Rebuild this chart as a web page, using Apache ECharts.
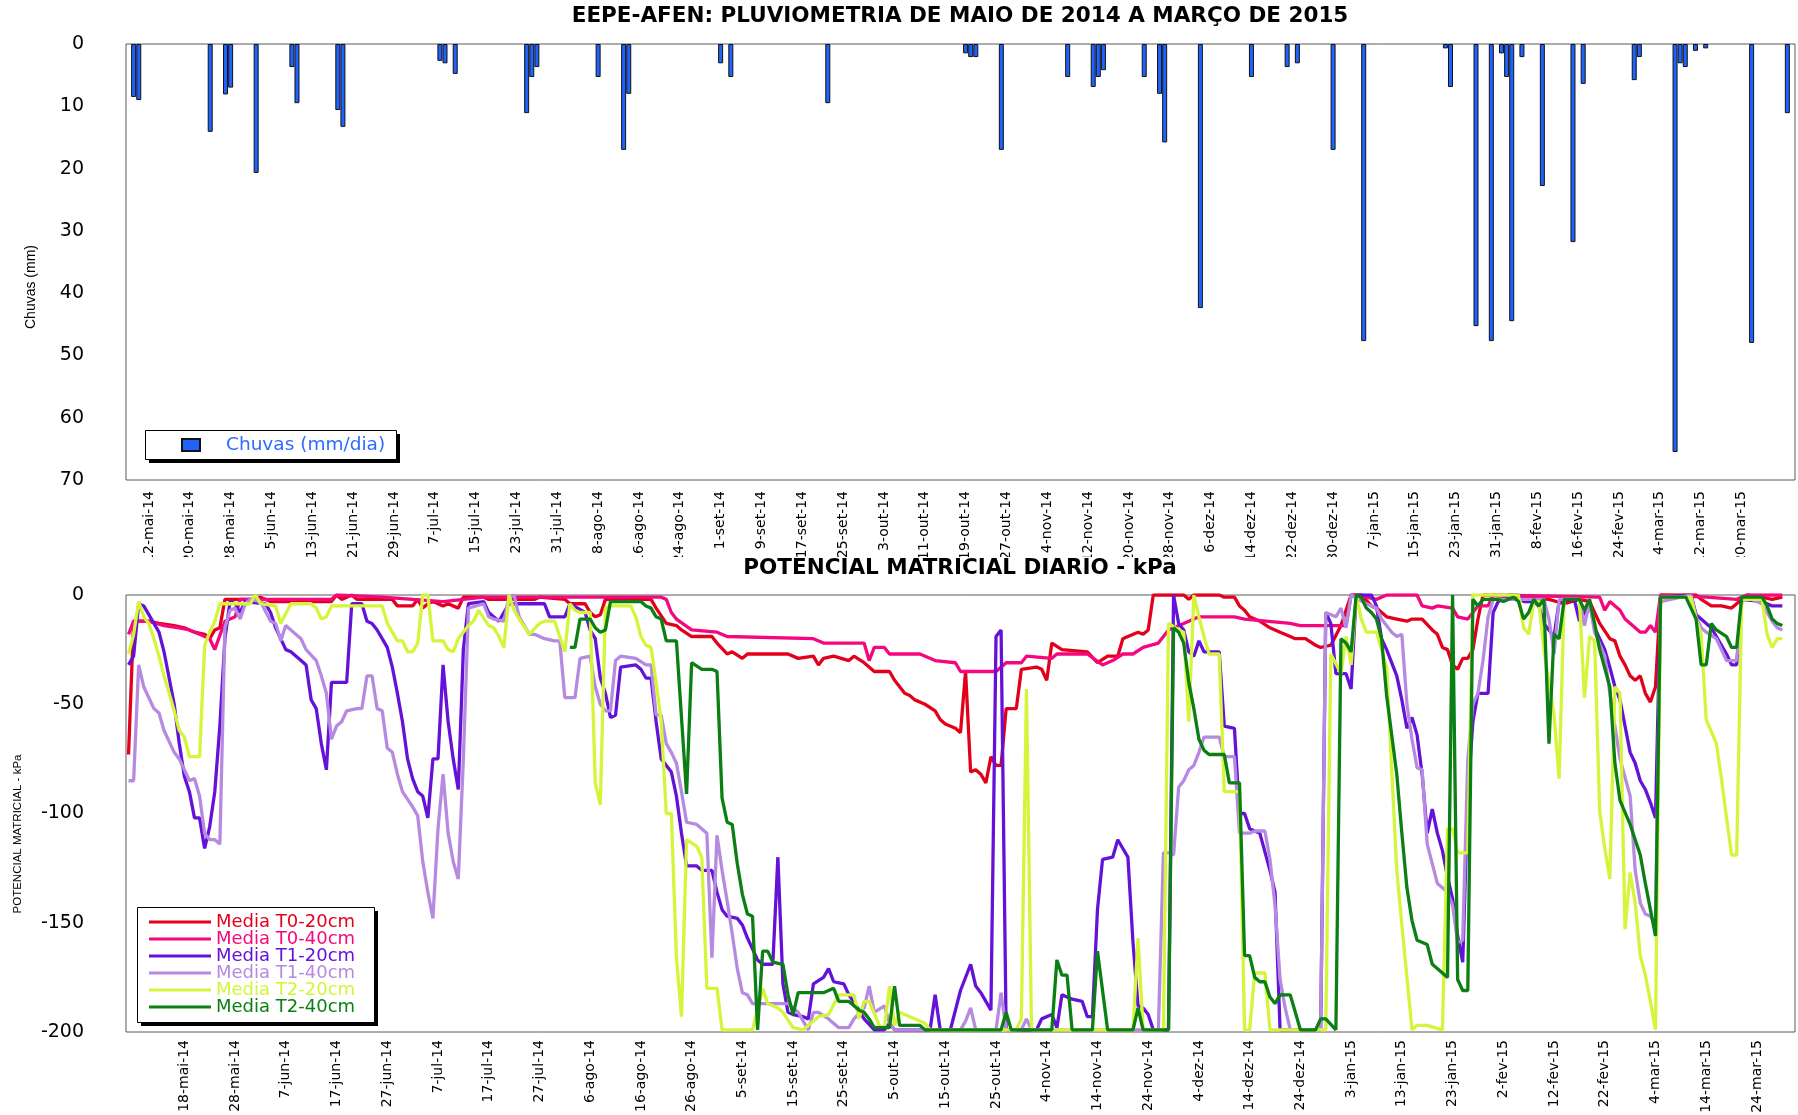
<!DOCTYPE html>
<html>
<head>
<meta charset="utf-8">
<script src="https://cdn.jsdelivr.net/npm/echarts@6/dist/echarts.min.js"></script>
<style>
  html, body { margin: 0; padding: 0; background: #fff; }
  #rain { position: absolute; left: 0; top: 0; width: 1798px; height: 557px; }
  #pot  { position: absolute; left: 0; top: 554px; width: 1798px; height: 561px; }
</style>
</head>
<body>
<div id="rain"></div>
<div id="pot"></div>
<script>
// ---------- categories ----------
const MESES = ['jan', 'fev', 'mar', 'abr', 'mai', 'jun', 'jul', 'ago', 'set', 'out', 'nov', 'dez'];
function makeDays(y, m, d, n) {
  const out = [];
  for (let i = 0; i < n; i++) {
    const t = new Date(Date.UTC(y, m - 1, d + i));
    out.push(t.getUTCDate() + '-' + MESES[t.getUTCMonth()] + '-' + String(t.getUTCFullYear()).slice(2));
  }
  return out;
}
const rainDays = makeDays(2014, 5, 8, 327);   // 8-mai-14 .. 30-mar-15
const potDays  = makeDays(2014, 5, 7, 329);   // 7-mai-14 .. 31-mar-15
const rainFirstLabel = 4, rainLabelStep = 8, rainLastLabel = 316;  // 12-mai-14 .. 20-mar-15, every 8 days
const potFirstLabel = 11, potLabelStep = 10;                       // 18-mai-14, every 10 days

// ---------- daily rainfall (mm/dia) ----------
const rainDates = ['9-mai-14', '10-mai-14', '24-mai-14', '27-mai-14', '28-mai-14', '2-jun-14', '9-jun-14', '10-jun-14',
  '18-jun-14', '19-jun-14', '8-jul-14', '9-jul-14', '11-jul-14', '25-jul-14', '26-jul-14', '27-jul-14', '8-ago-14',
  '13-ago-14', '14-ago-14', '1-set-14', '3-set-14', '22-set-14', '19-out-14', '20-out-14', '21-out-14', '26-out-14',
  '8-nov-14', '13-nov-14', '14-nov-14', '15-nov-14', '23-nov-14', '26-nov-14', '27-nov-14', '4-dez-14', '14-dez-14',
  '21-dez-14', '23-dez-14', '30-dez-14', '5-jan-15', '21-jan-15', '22-jan-15', '27-jan-15', '30-jan-15', '1-fev-15',
  '2-fev-15', '3-fev-15', '5-fev-15', '9-fev-15', '15-fev-15', '17-fev-15', '27-fev-15', '28-fev-15', '7-mar-15',
  '8-mar-15', '9-mar-15', '11-mar-15', '13-mar-15', '22-mar-15', '29-mar-15'];
const rainMm = [8.5, 9.0, 14.1, 8.1, 7.0, 20.7, 3.7, 9.5,
  10.6, 13.3, 2.7, 3.1, 4.8, 11.1, 5.3, 3.7, 5.3,
  17.0, 8.0, 3.1, 5.3, 9.5, 1.5, 2.1, 2.1, 17.0,
  5.3, 6.9, 5.3, 4.2, 5.3, 8.0, 15.8, 42.4, 5.3,
  3.7, 3.1, 17.0, 47.7, 0.7, 6.9, 45.3, 47.7, 1.5,
  5.3, 44.5, 2.1, 22.8, 31.8, 6.4, 5.8, 2.1, 65.5,
  3.1, 3.7, 1.1, 0.7, 48.0, 11.1];
const rainTicks = [0, 10, 20, 30, 40, 50, 60, 70];

// ---------- daily matric potential (kPa) ----------
// each pair: [day number counted from 7-mai-14, kPa]
const mediaT0_20 = [[0,-73],[1,-12],[4,-12],[6,-13],[9,-14],[11,-15],[13,-17],[15,-18],[16,-20],[17,-16],[18,-15],[19,-2],[25,-2],[26,-1],[28,-3],[40,-3],[41,0],[42,-2],[44,0],[45,-2],[52,-2],[53,-5],[56,-5],[57,-2],[58,-6],[59,-4],[60,-3],[62,-5],[63,-4],[65,-6],[66,-1],[70,-1],[71,-2],[80,-2],[81,-1],[86,-2],[87,-4],[90,-4],[91,-8],[92,-10],[93,-9],[94,-2],[103,-2],[104,-6],[106,-13],[108,-14],[109,-16],[111,-19],[115,-19],[116,-22],[118,-27],[119,-26],[121,-29],[122,-27],[130,-27],[132,-29],[135,-28],[136,-32],[137,-29],[139,-28],[142,-30],[143,-28],[145,-31],[147,-35],[150,-35],[151,-39],[153,-45],[154,-46],[155,-48],[157,-50],[159,-53],[160,-57],[161,-59],[163,-61],[164,-63],[165,-35],[166,-81],[167,-80],[168,-82],[169,-86],[170,-74],[171,-78],[172,-78],[173,-52],[175,-52],[176,-34],[179,-33],[180,-34],[181,-39],[182,-22],[184,-25],[189,-26],[191,-31],[193,-28],[195,-28],[196,-20],[197,-19],[199,-17],[200,-18],[201,-16],[202,0],[208,0],[209,-2],[210,0],[215,0],[216,-1],[218,-1],[219,-5],[220,-7],[221,-10],[223,-12],[225,-15],[227,-17],[229,-19],[230,-20],[232,-20],[234,-23],[235,-24],[237,-23],[239,-14],[241,0],[243,0],[245,-5],[246,-6],[248,-10],[250,-11],[252,-12],[253,-11],[255,-11],[257,-16],[258,-18],[259,-24],[260,-25],[261,-32],[262,-34],[263,-29],[264,-29],[265,-25],[266,-11],[267,0],[275,-1],[280,-2],[283,-4],[286,-2],[288,-3],[289,-8],[290,-13],[292,-20],[293,-21],[294,-28],[295,-32],[296,-37],[297,-39],[298,-37],[299,-45],[300,-49],[301,-42],[302,0],[309,0],[310,-2],[312,-5],[314,-5],[316,-6],[317,-4],[319,0],[322,-1],[324,-2],[326,-1]];

const mediaT0_40 = [[0,-18],[1,-12],[4,-12],[7,-14],[10,-15],[12,-16],[14,-18],[16,-20],[17,-25],[19,-12],[20,-11],[21,-10],[22,-2],[40,-2],[41,0],[50,-1],[62,-3],[70,-1],[95,-1],[105,-1],[106,-2],[107,-8],[108,-11],[111,-16],[116,-17],[118,-19],[135,-20],[137,-22],[145,-22],[146,-30],[147,-24],[149,-24],[150,-27],[156,-27],[159,-30],[163,-31],[164,-35],[171,-35],[173,-31],[176,-31],[177,-28],[182,-29],[183,-27],[189,-27],[192,-32],[194,-30],[196,-27],[198,-27],[200,-24],[203,-22],[205,-16],[208,-13],[211,-10],[218,-10],[220,-11],[229,-13],[231,-14],[240,-14],[241,0],[244,-1],[246,-2],[248,0],[254,0],[255,-5],[257,-6],[258,-5],[261,-6],[262,-10],[264,-11],[266,-5],[268,-5],[269,0],[290,-1],[291,-7],[292,-3],[294,-7],[295,-11],[297,-15],[298,-17],[299,-17],[300,-14],[301,-17],[302,0],[311,-1],[317,-2],[319,0],[326,0]];

const mediaT1_20 = [[0,-32],[1,-28],[2,-4],[3,-5],[4,-9],[5,-13],[6,-17],[7,-26],[8,-38],[9,-50],[10,-68],[11,-83],[12,-90],[13,-102],[14,-102],[15,-116],[16,-106],[17,-90],[18,-60],[19,-20],[20,-3],[21,-4],[22,-8],[23,-3],[27,-4],[28,-8],[29,-15],[31,-25],[32,-26],[34,-30],[35,-32],[36,-48],[37,-52],[38,-68],[39,-80],[40,-40],[43,-40],[44,-4],[46,-4],[47,-12],[48,-13],[49,-16],[50,-20],[51,-24],[52,-33],[53,-45],[54,-58],[55,-75],[56,-84],[57,-90],[58,-92],[59,-102],[60,-75],[61,-75],[62,-32],[63,-58],[64,-75],[65,-89],[66,-25],[67,-4],[70,-3],[71,-8],[73,-12],[75,-4],[82,-4],[83,-10],[86,-10],[87,-4],[90,-8],[91,-16],[92,-20],[93,-38],[94,-45],[95,-56],[96,-55],[97,-33],[100,-32],[101,-34],[102,-38],[103,-38],[104,-58],[105,-75],[107,-81],[108,-92],[109,-109],[110,-124],[112,-124],[113,-126],[115,-126],[116,-136],[117,-144],[118,-147],[120,-148],[121,-151],[122,-157],[124,-167],[125,-169],[127,-169],[128,-120],[129,-178],[130,-191],[131,-192],[133,-193],[134,-194],[135,-178],[137,-175],[138,-171],[139,-177],[141,-178],[142,-183],[144,-190],[145,-194],[147,-199],[149,-199],[150,-196],[151,-199],[158,-199],[159,-183],[160,-199],[162,-199],[164,-181],[166,-169],[167,-179],[168,-182],[170,-190],[171,-19],[172,-16],[173,-199],[179,-199],[180,-194],[182,-192],[183,-198],[184,-183],[186,-185],[188,-186],[189,-193],[190,-193],[191,-144],[192,-121],[194,-120],[195,-112],[196,-116],[197,-120],[198,-159],[199,-188],[200,-189],[201,-192],[202,-199],[205,-199],[206,0],[207,-13],[208,-16],[209,-26],[210,-28],[211,-21],[212,-26],[215,-26],[216,-60],[218,-61],[219,-100],[220,-100],[221,-107],[223,-109],[225,-126],[226,-136],[227,-199],[235,-199],[236,-8],[237,-13],[238,-36],[240,-36],[241,-43],[242,0],[245,0],[246,-5],[247,-20],[248,-25],[250,-37],[251,-48],[252,-61],[253,-56],[254,-64],[255,-82],[256,-109],[257,-98],[258,-109],[259,-117],[260,-129],[261,-139],[262,-156],[263,-168],[264,-92],[265,-58],[266,-45],[268,-45],[269,-8],[270,-3],[272,0],[274,0],[275,-3],[277,-3],[278,-5],[279,-13],[281,-19],[282,-3],[285,-2],[286,-12],[288,-4],[289,-15],[291,-25],[292,-33],[293,-42],[294,-48],[295,-60],[296,-72],[297,-77],[298,-85],[299,-89],[300,-95],[301,-102],[302,-1],[308,0],[309,-9],[310,-11],[311,-13],[312,-15],[313,-19],[314,-23],[315,-27],[316,-32],[317,-32],[318,-2],[322,-3],[324,-5],[326,-5]];

const mediaT1_40 = [[0,-85],[1,-85],[2,-32],[3,-42],[4,-47],[5,-52],[6,-54],[7,-62],[8,-67],[9,-72],[10,-75],[11,-80],[12,-85],[13,-84],[14,-92],[15,-109],[16,-112],[17,-112],[18,-114],[19,-15],[20,-7],[21,-6],[22,-11],[23,-4],[24,-2],[26,-3],[28,-12],[29,-13],[30,-21],[31,-14],[32,-16],[34,-20],[35,-25],[37,-30],[38,-37],[39,-45],[40,-66],[41,-60],[42,-58],[43,-53],[45,-52],[46,-52],[47,-37],[48,-37],[49,-52],[50,-53],[51,-70],[52,-72],[53,-82],[54,-90],[56,-97],[57,-101],[58,-122],[59,-136],[60,-148],[61,-107],[62,-82],[63,-109],[64,-122],[65,-130],[66,-75],[67,-6],[70,-4],[71,-10],[72,-11],[74,-12],[75,-1],[76,0],[77,-10],[79,-18],[80,-18],[82,-20],[84,-21],[85,-21],[86,-47],[88,-47],[89,-29],[91,-28],[92,-42],[93,-50],[94,-53],[95,-53],[96,-30],[97,-28],[100,-29],[102,-32],[103,-32],[104,-55],[105,-55],[106,-68],[107,-72],[108,-77],[109,-90],[110,-104],[112,-105],[114,-109],[115,-166],[116,-110],[117,-126],[118,-140],[119,-155],[120,-171],[121,-182],[122,-183],[123,-187],[130,-187],[132,-191],[134,-199],[135,-191],[136,-191],[138,-194],[140,-198],[142,-198],[143,-194],[145,-189],[146,-179],[147,-191],[149,-188],[150,-196],[151,-199],[164,-199],[165,-195],[166,-189],[167,-199],[171,-199],[172,-182],[173,-199],[176,-199],[177,-194],[178,-199],[203,-199],[204,-118],[205,-118],[206,-119],[207,-88],[208,-85],[209,-80],[210,-78],[211,-72],[212,-65],[215,-65],[216,-74],[218,-74],[219,-109],[221,-109],[222,-108],[224,-108],[225,-121],[226,-142],[227,-176],[228,-189],[229,-199],[235,-199],[236,-8],[238,-10],[239,-6],[240,-15],[241,0],[244,-4],[246,-6],[247,-11],[249,-17],[250,-19],[251,-18],[252,-50],[253,-66],[254,-79],[255,-80],[256,-114],[258,-132],[259,-134],[260,-136],[261,-142],[262,-159],[263,-158],[264,-75],[265,-50],[266,-45],[267,-30],[268,-10],[269,-2],[279,-2],[280,-11],[281,-27],[282,-2],[286,-2],[287,-14],[288,-3],[289,-17],[291,-28],[292,-45],[294,-75],[296,-92],[297,-126],[298,-141],[299,-146],[300,-147],[301,-151],[302,-3],[308,0],[309,-10],[310,-15],[311,-17],[313,-20],[314,-25],[315,-30],[317,-30],[318,-3],[319,-1],[322,-4],[324,-12],[325,-15],[326,-16]];

const mediaT2_20 = [[0,-27],[1,-18],[2,-3],[3,-10],[4,-13],[5,-20],[6,-28],[7,-37],[8,-45],[9,-53],[10,-62],[11,-65],[12,-74],[14,-74],[15,-23],[16,-17],[17,-12],[18,-4],[24,-4],[25,0],[26,-4],[29,-5],[30,-13],[32,-4],[36,-4],[37,-6],[38,-11],[39,-10],[40,-5],[50,-5],[51,-13],[53,-21],[54,-21],[55,-26],[56,-26],[57,-22],[58,0],[59,0],[60,-21],[62,-21],[63,-25],[64,-26],[65,-20],[67,-14],[68,-12],[69,-7],[71,-14],[72,-15],[73,-19],[74,-24],[75,0],[76,-7],[77,-11],[79,-18],[81,-13],[82,-12],[84,-12],[86,-26],[87,-4],[88,-7],[89,-8],[91,-8],[92,-86],[93,-96],[94,-6],[95,-5],[99,-5],[100,-10],[101,-19],[102,-23],[103,-24],[104,-40],[105,-58],[106,-100],[107,-100],[108,-166],[109,-193],[110,-112],[112,-115],[113,-120],[114,-180],[116,-180],[117,-199],[123,-199],[125,-180],[126,-187],[128,-189],[129,-191],[131,-198],[133,-199],[135,-195],[136,-193],[138,-192],[140,-183],[143,-183],[144,-194],[145,-186],[146,-186],[148,-197],[149,-198],[150,-179],[151,-197],[152,-191],[154,-193],[156,-195],[157,-196],[158,-199],[175,-199],[176,-194],[177,-43],[178,-199],[198,-199],[199,-157],[200,-199],[204,-199],[205,-13],[207,-16],[208,-17],[209,-58],[210,0],[211,-10],[212,-19],[213,-27],[215,-27],[216,-90],[219,-90],[220,-199],[221,-199],[222,-173],[224,-173],[225,-199],[236,-199],[237,-27],[239,-36],[240,-19],[241,-32],[242,0],[243,-11],[244,-17],[246,-17],[248,-33],[249,-80],[250,-126],[251,-151],[253,-199],[254,-197],[256,-197],[259,-199],[260,-107],[261,-107],[262,-118],[264,-118],[265,0],[274,0],[275,-15],[276,-18],[277,-3],[278,-3],[279,-25],[281,-55],[282,-84],[283,-2],[286,-2],[287,-47],[288,-19],[289,-21],[290,-99],[291,-116],[292,-130],[293,-42],[294,-45],[295,-153],[296,-127],[297,-141],[298,-165],[299,-174],[300,-186],[301,-199],[302,-1],[308,-1],[309,-11],[310,-18],[311,-57],[313,-68],[314,-84],[315,-102],[316,-119],[317,-119],[318,-2],[322,-2],[323,-18],[324,-24],[325,-20],[326,-20]];

const mediaT2_40 = [[87,-24],[88,-24],[89,-11],[91,-11],[92,-15],[93,-17],[94,-16],[95,-3],[101,-3],[102,-5],[103,-6],[104,-10],[105,-11],[106,-21],[108,-21],[110,-91],[111,-31],[113,-34],[115,-34],[116,-35],[117,-93],[118,-104],[119,-105],[120,-123],[121,-137],[122,-146],[123,-147],[124,-199],[125,-163],[126,-163],[127,-168],[129,-169],[130,-183],[131,-192],[132,-182],[137,-182],[139,-180],[140,-186],[142,-186],[143,-188],[144,-190],[145,-191],[146,-194],[147,-198],[150,-198],[151,-179],[152,-197],[156,-197],[157,-199],[172,-199],[173,-191],[174,-199],[182,-199],[183,-167],[184,-174],[185,-174],[186,-199],[190,-199],[191,-163],[193,-199],[198,-199],[199,-189],[200,-199],[205,-199],[206,-15],[207,-17],[208,-22],[209,-40],[210,-52],[211,-66],[212,-71],[213,-73],[216,-73],[217,-86],[219,-86],[220,-165],[221,-165],[222,-175],[223,-177],[224,-177],[225,-184],[226,-187],[227,-183],[229,-183],[231,-199],[234,-199],[235,-194],[236,-194],[238,-199],[239,-20],[240,-22],[241,-26],[242,0],[243,-1],[244,-6],[245,-8],[246,-11],[247,-20],[248,-46],[250,-82],[251,-109],[252,-134],[253,-149],[254,-158],[256,-160],[257,-169],[259,-173],[260,-175],[261,0],[262,-176],[263,-181],[264,-181],[265,-2],[266,-5],[267,-2],[270,-2],[271,-3],[273,-1],[274,-3],[275,-11],[276,-8],[277,-2],[278,-5],[279,-2],[280,-68],[281,-18],[282,-20],[283,-2],[286,-2],[287,-7],[288,-2],[289,-13],[290,-25],[292,-42],[293,-77],[294,-94],[296,-105],[298,-119],[299,-132],[300,-144],[301,-156],[302,-1],[307,-1],[308,-6],[309,-11],[310,-32],[311,-32],[312,-13],[313,-16],[315,-19],[316,-24],[317,-24],[318,-1],[322,-1],[323,-5],[324,-11],[325,-13],[326,-14]];

const potTicks = [-200, -150, -100, -50, 0];

const seriesDefs = [
  { name: 'Media T0-20cm', data: mediaT0_20, color: '#e3001b' },
  { name: 'Media T0-40cm', data: mediaT0_40, color: '#f5077e' },
  { name: 'Media T1-20cm', data: mediaT1_20, color: '#6512d8' },
  { name: 'Media T1-40cm', data: mediaT1_40, color: '#b68ae0' },
  { name: 'Media T2-20cm', data: mediaT2_20, color: '#d5f53b' },
  { name: 'Media T2-40cm', data: mediaT2_40, color: '#0b7e14' }
];

// ---------- shared styles ----------
const WIDE = "'DejaVu Sans', Verdana, sans-serif";
const PLAIN = "'Liberation Sans', Arial, sans-serif";
const frame = {
  show: true, left: 126, right: 3, outerBoundsMode: 'none',
  borderColor: '#5a5a5a', borderWidth: 1, backgroundColor: '#fff'
};
// framed legend panel: a solid black drop shadow under a white bordered box
function legendPanel(x, y, w, h) {
  return [
    { type: 'rect', z: 3, shape: { x: x + 4, y: y + 4, width: w, height: h }, style: { fill: '#000' } },
    { type: 'rect', z: 3, shape: { x: x + 0.5, y: y + 0.5, width: w, height: h }, style: { fill: '#fff', stroke: '#000', lineWidth: 1 } }
  ];
}

// ---------- rainfall chart ----------
const rainChart = echarts.init(document.getElementById('rain'), null, { renderer: 'canvas' });
const rainBars = rainDates.map((d, i) => [rainDays.indexOf(d), rainMm[i]]);
rainChart.setOption({
  animation: false,
  title: {
    text: 'EEPE-AFEN: PLUVIOMETRIA DE MAIO DE 2014 A MARÇO DE 2015',
    left: 960, top: 5, textAlign: 'center', padding: 0,
    textStyle: { fontFamily: WIDE, fontWeight: 'bold', fontSize: 21.5, color: '#000' }
  },
  grid: Object.assign({}, frame, { top: 44, bottom: 77 }),
  legend: {
    left: 181, top: 435, padding: 0, z: 4,
    itemWidth: 18, itemHeight: 12, icon: 'rect',
    textStyle: { fontFamily: WIDE, fontSize: 18.5, lineHeight: 20, color: '#2d6cff', padding: [0, 0, 0, 21] },
    data: ['Chuvas (mm/dia)']
  },
  xAxis: {
    type: 'category', data: rainDays, boundaryGap: true,
    axisLine: { show: false }, axisTick: { show: false },
    axisLabel: {
      rotate: 90, margin: 11, fontFamily: WIDE, fontSize: 14, color: '#000',
      interval: (i) => i >= rainFirstLabel && i <= rainLastLabel && (i - rainFirstLabel) % rainLabelStep === 0
    }
  },
  yAxis: {
    type: 'value', inverse: true, min: rainTicks[0], max: rainTicks[rainTicks.length - 1], interval: 10,
    axisLine: { show: false }, axisTick: { show: false }, splitLine: { show: false },
    axisLabel: { margin: 42, fontFamily: WIDE, fontSize: 19, color: '#000' }
  },
  graphic: legendPanel(145, 430, 251, 29).concat([{
    type: 'text', x: 31, y: 287, rotation: Math.PI / 2,
    style: { text: 'Chuvas (mm)', font: '14px ' + PLAIN, fill: '#000', align: 'center', verticalAlign: 'middle' }
  }]),
  series: [{
    type: 'bar', name: 'Chuvas (mm/dia)', data: rainBars, barWidth: 5,
    itemStyle: { color: '#1f63ff', borderColor: '#111', borderWidth: 1 }
  }]
});

// ---------- matric potential chart ----------
const potChart = echarts.init(document.getElementById('pot'), null, { renderer: 'canvas' });
potChart.setOption({
  animation: false,
  title: {
    text: 'POTENCIAL MATRICIAL DIARIO - kPa',
    left: 960, top: 3, textAlign: 'center', padding: 0,
    textStyle: { fontFamily: WIDE, fontWeight: 'bold', fontSize: 21.5, color: '#000' }
  },
  grid: Object.assign({}, frame, { top: 41, bottom: 83 }),
  legend: {
    orient: 'vertical', left: 149, top: 359, padding: 0, z: 4,
    itemWidth: 62, itemHeight: 3, itemGap: -1,
    textStyle: { fontFamily: WIDE, fontSize: 18, lineHeight: 16 },
    data: seriesDefs.map(s => ({ name: s.name, icon: 'rect', textStyle: { color: s.color } }))
  },
  xAxis: {
    type: 'category', data: potDays, boundaryGap: true,
    axisLine: { show: false }, axisTick: { show: false },
    axisLabel: {
      rotate: 90, margin: 8, fontFamily: WIDE, fontSize: 14, color: '#000',
      interval: (i) => i >= potFirstLabel && (i - potFirstLabel) % potLabelStep === 0
    }
  },
  yAxis: {
    type: 'value', min: potTicks[0], max: potTicks[potTicks.length - 1], interval: 50,
    axisLine: { show: false }, axisTick: { show: false }, splitLine: { show: false },
    axisLabel: { margin: 42, fontFamily: WIDE, fontSize: 19, color: '#000' }
  },
  graphic: legendPanel(137, 353, 237, 115).concat([{
    type: 'text', x: 18, y: 280, rotation: Math.PI / 2,
    style: { text: 'POTENCIAL MATRICIAL - kPa', font: '11.5px ' + PLAIN, fill: '#000', align: 'center', verticalAlign: 'middle' }
  }]),
  series: seriesDefs.map(s => ({
    type: 'line', name: s.name, data: s.data, symbol: 'none',
    lineStyle: { width: 3.3, color: s.color }, itemStyle: { color: s.color }
  }))
});
</script>
</body>
</html>
